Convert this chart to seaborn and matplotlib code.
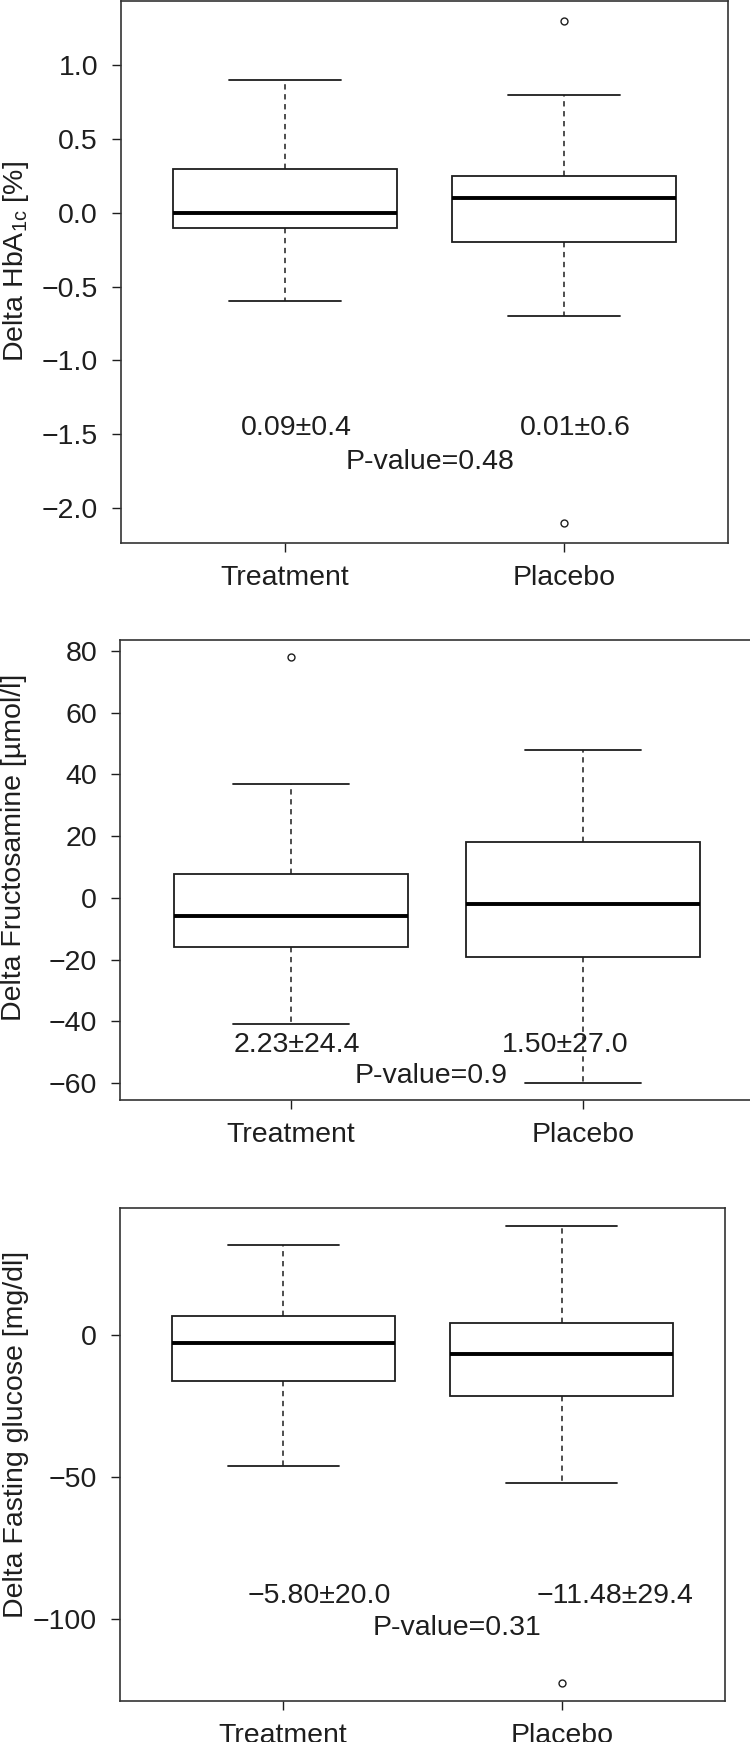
import numpy as np
import pandas as pd
import matplotlib
matplotlib.use("Agg")
import matplotlib.pyplot as plt
import seaborn as sns

# ---------------- data ----------------
groups = ["Treatment", "Placebo"]

# five-number summaries: lower whisker, Q1, median, Q3, upper whisker
hba1c_treatment = [-0.6, -0.1, 0.0, 0.3, 0.9]
hba1c_placebo = [-0.7, -0.2, 0.1, 0.25, 0.8]
hba1c_out_treatment = []
hba1c_out_placebo = [1.3, -2.1]
hba1c_means = ["0.09\u00b10.4", "0.01\u00b10.6"]
hba1c_p = "P-value=0.48"

fru_treatment = [-41, -16, -6, 7.7, 37]
fru_placebo = [-60, -19.2, -2, 18, 48]
fru_out_treatment = [78]
fru_out_placebo = []
fru_means = ["2.23\u00b124.4", "1.50\u00b127.0"]
fru_p = "P-value=0.9"

glu_treatment = [-46, -16.1, -2.7, 6.7, 31.6]
glu_placebo = [-52, -21.6, -6.7, 4.3, 38.3]
glu_out_treatment = []
glu_out_placebo = [-122.4]
glu_means = ["\u22125.80\u00b120.0", "\u221211.48\u00b129.4"]
glu_p = "P-value=0.31"

ylabels = ["Delta HbA$_{\\mathregular{1c}}$ [%]",
           "Delta Fructosamine [\u00b5mol/l]",
           "Delta Fasting glucose [mg/dl]"]

# ---------------- style ----------------
sns.set_theme(style="ticks")
plt.rcParams["font.family"] = ["Liberation Sans", "DejaVu Sans"]
plt.rcParams["mathtext.fontset"] = "custom"
plt.rcParams["mathtext.rm"] = "Liberation Sans"
plt.rcParams["mathtext.it"] = "Liberation Sans:italic"
FS = 20.5
INK = "#1e1e1e"

fig = plt.figure(figsize=(7.5, 17.42), dpi=100)

# axes rectangles in figure fraction [left, bottom, width, height]
rects = [
    [121 / 750, (1742 - 543) / 1742, (728 - 121) / 750, (543 - 0.8) / 1742],
    [120 / 750, (1742 - 1100) / 1742, (754 - 120) / 750, (1100 - 640) / 1742],
    [120 / 750, (1742 - 1701) / 1742, (725 - 120) / 750, (1701 - 1208) / 1742],
]
label_x_px = [16, 14, 16]
label_y_frac = [0.52, 0.55, 0.54]

panels = [
    (hba1c_treatment, hba1c_placebo, hba1c_out_treatment, hba1c_out_placebo,
     hba1c_means, hba1c_p, [1.0, 0.5, 0.0, -0.5, -1.0, -1.5, -2.0], "{:.1f}",
     [(0.04, -1.46), (1.04, -1.46)], (0.52, -1.69)),
    (fru_treatment, fru_placebo, fru_out_treatment, fru_out_placebo,
     fru_means, fru_p, [80, 60, 40, 20, 0, -20, -40, -60], "{:.0f}",
     [(0.02, -47.7), (0.94, -47.7)], (0.48, -57.9)),
    (glu_treatment, glu_placebo, glu_out_treatment, glu_out_placebo,
     glu_means, glu_p, [0, -50, -100], "{:.0f}",
     [(0.13, -91.8), (1.19, -91.8)], (0.625, -103.2)),
]

for i, (tr, pl, otr, opl, means, ptxt, yt, fmt, mpos, ppos) in enumerate(panels):
    ax = fig.add_axes(rects[i])
    df = pd.DataFrame({
        "group": [groups[0]] * len(tr) + [groups[1]] * len(pl),
        "value": list(tr) + list(pl),
    })
    sns.boxplot(data=df, x="group", y="value", order=groups, ax=ax,
                whis=(0, 100), width=0.8, color="white", linecolor=INK,
                linewidth=1.3, showfliers=False, saturation=1,
                medianprops={"linewidth": 2.8, "color": "black"},
                whiskerprops={"linestyle": (0, (3.5, 3)), "linewidth": 1.1},
                capprops={"linewidth": 1.3})
    out_df = pd.DataFrame({
        "group": [groups[0]] * len(otr) + [groups[1]] * len(opl),
        "value": list(otr) + list(opl),
    })
    if len(out_df):
        sns.stripplot(data=out_df, x="group", y="value", order=groups, ax=ax,
                      jitter=False, size=5, color="white", edgecolor=INK,
                      linewidth=1.0, zorder=5)

    allv = list(tr) + list(pl) + list(otr) + list(opl)
    lo, hi = min(allv), max(allv)
    pad = 0.04 * (hi - lo)
    ax.set_ylim(lo - pad, hi + pad)
    ax.set_xlim(-0.586, 1.586)

    for (mx, my), m in zip(mpos, means):
        ax.text(mx, my, m, ha="center", va="center", fontsize=FS, color=INK)
    ax.text(ppos[0], ppos[1], ptxt, ha="center", va="center", fontsize=FS,
            color=INK)

    ax.set_yticks(yt)
    ax.set_yticklabels([fmt.format(v).replace("-", "\u2212") for v in yt])
    ax.set_xticks([0, 1])
    ax.set_xticklabels(groups)
    ax.set_xlabel("")
    ax.set_ylabel(ylabels[i], fontsize=FS, color=INK, va="center")
    ax.yaxis.set_label_coords((label_x_px[i] - rects[i][0] * 750)
                              / (rects[i][2] * 750), label_y_frac[i])
    ax.tick_params(axis="both", labelsize=FS, length=6.5, width=1.0,
                   color=INK, labelcolor=INK, direction="out")
    ax.tick_params(axis="y", pad=10)
    ax.tick_params(axis="x", pad=9)
    for s in ax.spines.values():
        s.set_visible(True)
        s.set_color("#333333")
        s.set_linewidth(1.2)
    ax.grid(False)
    ax.set_facecolor("white")

fig.savefig("out.png", dpi=100, facecolor="white")
